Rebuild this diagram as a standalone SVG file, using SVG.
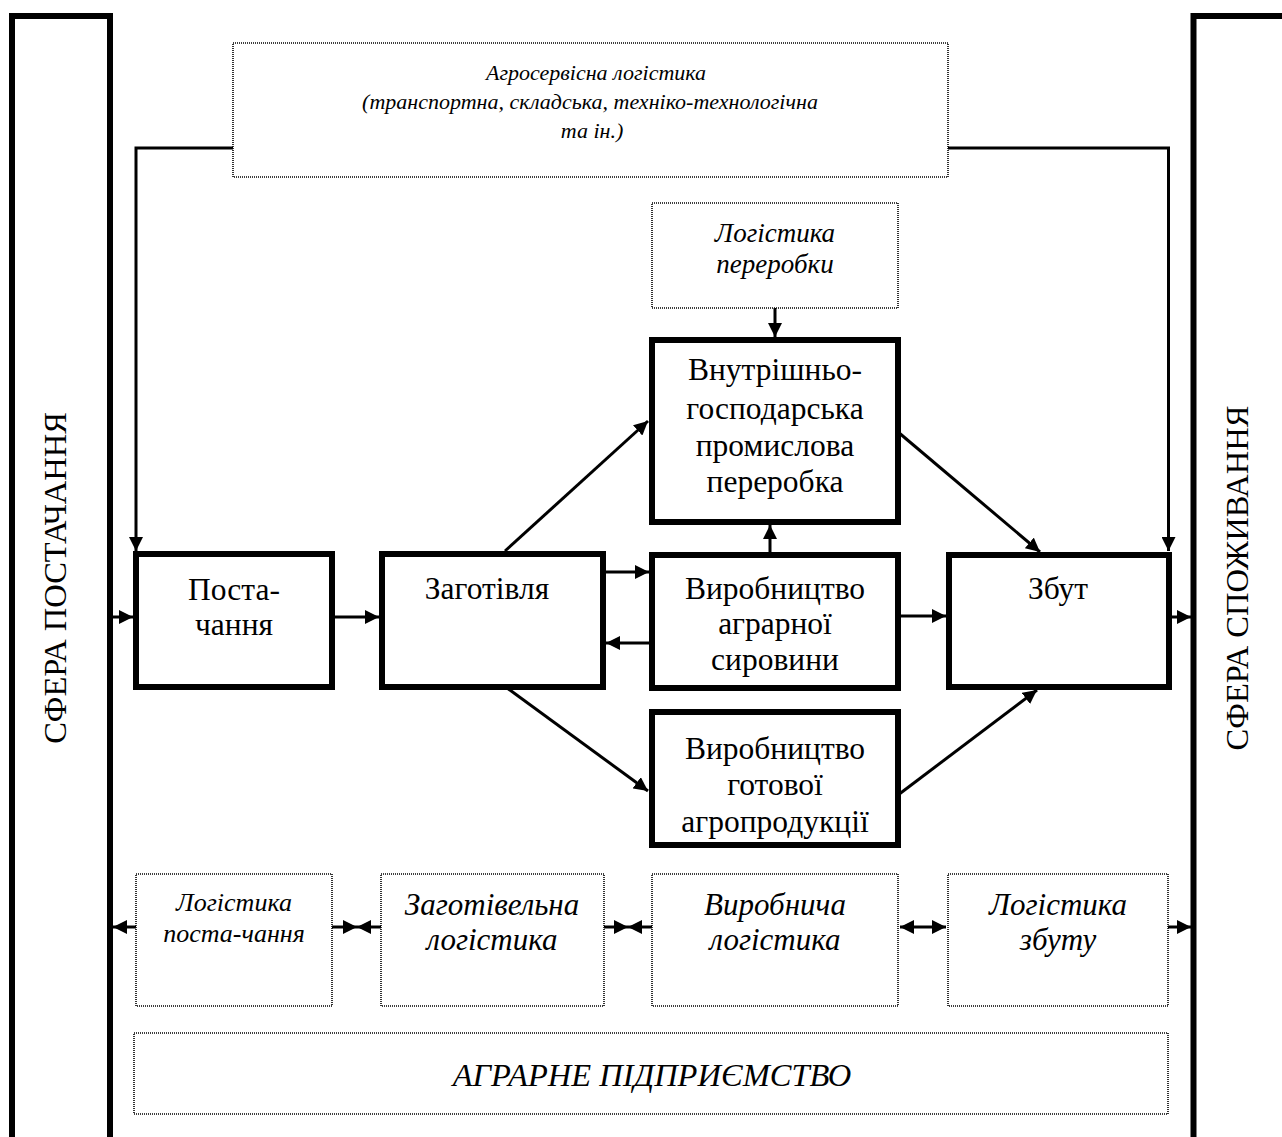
<svg xmlns="http://www.w3.org/2000/svg" width="1282" height="1137" viewBox="0 0 1282 1137">
<style>
.frame{fill:none;stroke:#000;stroke-width:6}
.box{fill:#fff;stroke:#000;stroke-width:6}
.dot{fill:#fff;stroke:#000;stroke-width:1.6;stroke-dasharray:1 1}
.con{fill:none;stroke:#000;stroke-width:3}
.t{font-family:"Liberation Serif","Times New Roman",serif;font-size:31.5px;text-anchor:middle;fill:#000}
.i{font-family:"Liberation Serif","Times New Roman",serif;font-style:italic;text-anchor:middle;fill:#000}
.side{font-family:"Liberation Serif","Times New Roman",serif;font-size:32.5px;text-anchor:middle;fill:#000}
</style>
<defs>
<marker id="ah" viewBox="0 0 14 14" refX="14" refY="7" markerWidth="14" markerHeight="14" markerUnits="userSpaceOnUse" orient="auto-start-reverse">
<path d="M0,0 L14,7 L0,14 z" fill="#000"/>
</marker>
</defs>
<rect width="1282" height="1137" fill="#fff"/>

<g id="sfera-postachannya">
<path class="frame" d="M12,1140 V16 H110 V1140"/>
<text class="side" transform="translate(66,578) rotate(-90)">СФЕРА ПОСТАЧАННЯ</text>
</g>
<g id="sfera-spozhyvannya">
<path class="frame" d="M1193.5,1140 V16 H1290"/>
<text class="side" transform="translate(1248,578) rotate(-90)">СФЕРА СПОЖИВАННЯ</text>
</g>

<g id="connectors">
<path class="con" d="M233,148 H136 V551" marker-end="url(#ah)"/>
<path class="con" d="M948,148 H1168.5 V551" marker-end="url(#ah)"/>
<path class="con" d="M110,617 H133" marker-end="url(#ah)"/>
<path class="con" d="M335,617 H379" marker-end="url(#ah)"/>
<path class="con" d="M606,572 H649" marker-end="url(#ah)"/>
<path class="con" d="M649,643 H606" marker-end="url(#ah)"/>
<path class="con" d="M901,616 H946" marker-end="url(#ah)"/>
<path class="con" d="M1172,617 H1191" marker-end="url(#ah)"/>
<path class="con" d="M505,551 L648,421" marker-end="url(#ah)"/>
<path class="con" d="M507,688 L648,791" marker-end="url(#ah)"/>
<path class="con" d="M898,432 L1040,552" marker-end="url(#ah)"/>
<path class="con" d="M898,795 L1037,690" marker-end="url(#ah)"/>
<path class="con" d="M770,552 V525" marker-end="url(#ah)"/>
<path class="con" d="M775,308 V337" marker-end="url(#ah)"/>
<path class="con" d="M136,927 H113" marker-end="url(#ah)"/>
<path class="con" d="M332,927 H357" marker-end="url(#ah)"/>
<path class="con" d="M381,927 H357" marker-end="url(#ah)"/>
<path class="con" d="M604,927 H628" marker-end="url(#ah)"/>
<path class="con" d="M652,927 H628" marker-end="url(#ah)"/>
<path class="con" d="M900,927 H946" marker-start="url(#ah)" marker-end="url(#ah)"/>
<path class="con" d="M1168,927 H1191" marker-end="url(#ah)"/>
</g>

<g id="agroservice">
<rect class="dot" x="233" y="43" width="715" height="134"/>
<text class="i" font-size="22" x="596" y="80">Агросервісна логістика</text>
<text class="i" font-size="22" x="590" y="109">(транспортна, складська, техніко-технологічна</text>
<text class="i" font-size="22" x="592" y="138">та ін.)</text>
</g>

<g id="logistyka-pererobky">
<rect class="dot" x="652" y="203" width="246" height="105"/>
<text class="i" font-size="27" x="775" y="242">Логістика</text>
<text class="i" font-size="27" x="775" y="273">переробки</text>
</g>

<g id="vnutrishnyo">
<rect class="box" x="652" y="340" width="246" height="182"/>
<text class="t" x="775" y="380">Внутрішньо-</text>
<text class="t" x="775" y="419">господарська</text>
<text class="t" x="775" y="456">промислова</text>
<text class="t" x="775" y="492">переробка</text>
</g>

<g id="postachannya">
<rect class="box" x="136" y="554" width="196" height="133"/>
<text class="t" x="234" y="600">Поста-</text>
<text class="t" x="234" y="635">чання</text>
</g>

<g id="zagotivlya">
<rect class="box" x="382" y="554" width="221" height="133"/>
<text class="t" x="487" y="599">Заготівля</text>
</g>

<g id="vyrobnytstvo-syrovyny">
<rect class="box" x="652" y="555" width="246" height="133"/>
<text class="t" x="775" y="599">Виробництво</text>
<text class="t" x="775" y="634">аграрної</text>
<text class="t" x="775" y="670">сировини</text>
</g>

<g id="zbut">
<rect class="box" x="949" y="555" width="220" height="132"/>
<text class="t" x="1058" y="599">Збут</text>
</g>

<g id="vyrobnytstvo-gotovoi">
<rect class="box" x="652" y="712" width="246" height="133"/>
<text class="t" x="775" y="759">Виробництво</text>
<text class="t" x="775" y="795">готової</text>
<text class="t" x="775" y="832">агропродукції</text>
</g>

<g id="logistyka-postachannya">
<rect class="dot" x="136" y="874" width="196" height="132"/>
<text class="i" font-size="26" x="234" y="911">Логістика</text>
<text class="i" font-size="26" x="234" y="942">поста-чання</text>
</g>

<g id="zagotivelna-logistyka">
<rect class="dot" x="381" y="874" width="223" height="132"/>
<text class="i" font-size="31" x="492" y="915">Заготівельна</text>
<text class="i" font-size="31" x="492" y="950">логістика</text>
</g>

<g id="vyrobnycha-logistyka">
<rect class="dot" x="652" y="874" width="246" height="132"/>
<text class="i" font-size="31" x="775" y="915">Виробнича</text>
<text class="i" font-size="31" x="775" y="950">логістика</text>
</g>

<g id="logistyka-zbutu">
<rect class="dot" x="948" y="874" width="220" height="132"/>
<text class="i" font-size="31" x="1058" y="915">Логістика</text>
<text class="i" font-size="31" x="1058" y="950">збуту</text>
</g>

<g id="agrarne-pidpryiemstvo">
<rect class="dot" x="134" y="1033" width="1034" height="81"/>
<text class="i" font-size="32.5" x="652" y="1086">АГРАРНЕ ПІДПРИЄМСТВО</text>
</g>
</svg>
